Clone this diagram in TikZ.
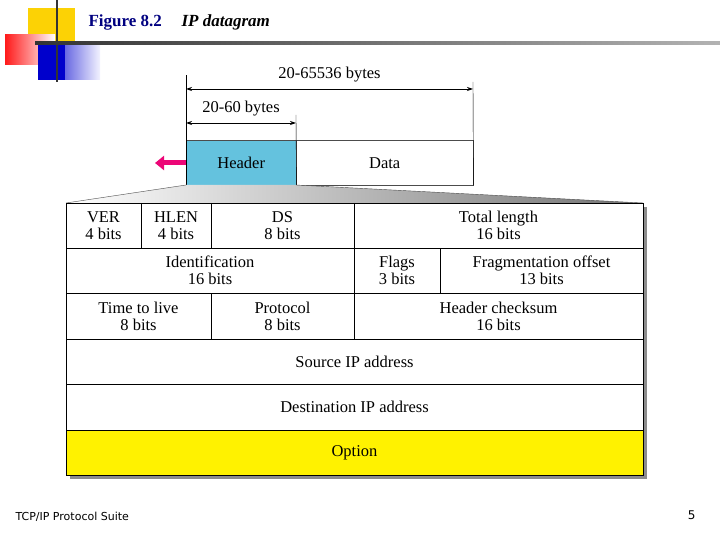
\documentclass[tikz,border=0pt]{standalone}
\usepackage{fontspec}
\setmainfont{Liberation Serif}
\newfontfamily\tah{DejaVu Sans}
\usetikzlibrary{arrows.meta}
\definecolor{hdrc}{RGB}{100,194,222}
\begin{document}
\begin{tikzpicture}[x=1pt,y=-1pt,
  cell/.style={font=\fontsize{16.5}{17}\selectfont, align=center, inner sep=0pt},
  dim/.style={{Stealth[length=6pt,width=4pt]}-{Stealth[length=6pt,width=4pt]}, line width=0.8pt}]
\useasboundingbox (0,0) rectangle (720,540);
% logo
\fill[yellow!70!orange] (28,8) rectangle (75,48);
\shade[left color=red!90, right color=white] (5,35) rectangle (55,65);
\shade[left color=blue!80!black, right color=blue!5] (38,45) rectangle (100,80);
\fill[blue!80!black] (38,45) rectangle (65,80);
\draw[line width=2pt, black!80] (57,0) -- (57,82);
\shade[left color=black!80, right color=black!30] (35,42) rectangle (720,45);
\node[anchor=west, text=blue!50!black, font=\bfseries\fontsize{17}{17}\selectfont] (fig) at (85,22) {Figure 8.2};
\node[anchor=west, font=\bfseries\itshape\fontsize{17}{17}\selectfont] (tit) at (178,22) {IP datagram};
% top datagram
\node[draw=black!70, fill=hdrc, minimum width=110pt, minimum height=45pt, inner sep=0pt, anchor=north west, font=\fontsize{16.5}{16}\selectfont] (hdr) at (186,140) {Header};
\node[draw=black!70, minimum width=177pt, minimum height=45pt, inner sep=0pt, anchor=north west, font=\fontsize{16.5}{16}\selectfont] (dat) at (296,140) {Data};
\coordinate (l1) at (186,75); \coordinate (r1) at (473,82); \coordinate (m1) at (296,115);
\draw (hdr.south west) -- (l1);
\draw (dat.south east) -- (r1);
\draw (hdr.south east) -- (m1);
\draw[dim] (186,89) -- node[above=3pt, font=\fontsize{16.5}{16}\selectfont] {20-65536 bytes} (473,89);
\draw[dim] (186,123) -- node[above=3pt, font=\fontsize{16.5}{16}\selectfont] {20-60 bytes} (296,123);
\draw[-{Triangle[length=9pt,width=14pt]}, line width=5pt, magenta!80!red] (186,163) -- (155,163);
% trapezoid
\shade[left color=white, right color=black!55] (186,185) -- (296,185) -- (643,203) -- (66,203) -- cycle;
\draw[black!70] (186,185) -- (66,203) (296,185) -- (643,203);
% shadow
\fill[black!45] (70,207) rectangle (647,479);
\fill[white] (66,203) rectangle (643,475);
\fill[yellow] (66,430) rectangle (643,475);
% grid
\begin{scope}[line width=0.8pt]
\draw (66,203) rectangle (643,475);
\foreach \y in {248,293,339,384,430} \draw (66,\y) -- (643,\y);
\draw (141,203) -- (141,248) (211,203) -- (211,248) (354,203) -- (354,293) (440,248) -- (440,293);
\draw (211,293) -- (211,339) (354,293) -- (354,339);
\end{scope}
\node[cell] (ver) at (103.5,225.5) {VER\\4 bits};
\node[cell] (hl) at (176,225.5) {HLEN\\4 bits};
\node[cell] (ds) at (282.5,225.5) {DS\\8 bits};
\node[cell] (tl) at (498.5,225.5) {Total length\\16 bits};
\node[cell] (id) at (210,270.5) {Identification\\16 bits};
\node[cell] (fl) at (397,270.5) {Flags\\3 bits};
\node[cell] (fo) at (541.5,270.5) {Fragmentation offset\\13 bits};
\node[cell] (ttl) at (138.5,316) {Time to live\\8 bits};
\node[cell] (pr) at (282.5,316) {Protocol\\8 bits};
\node[cell] (hc) at (498.5,316) {Header checksum\\16 bits};
\node[cell] (src) at (354.5,361.5) {Source IP address};
\node[cell] (dst) at (354.5,407) {Destination IP address};
\node[cell] (opt) at (354.5,452.5) {Option};
% footer
\node[anchor=west, font=\tah\fontsize{11}{11}\selectfont] (ft) at (12,517) {TCP/IP Protocol Suite};
\node[anchor=east, font=\tah\fontsize{12}{12}\selectfont] (pg) at (699,515) {5};
\end{tikzpicture}
\end{document}
